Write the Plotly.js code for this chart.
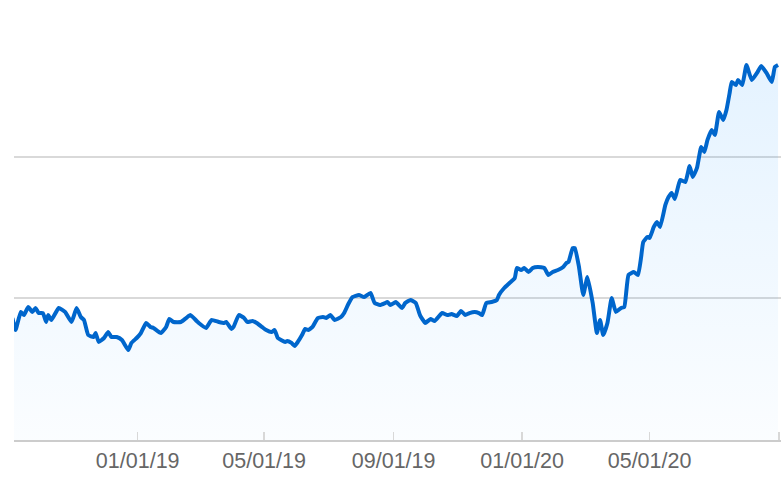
<!DOCTYPE html>
<html>
<head>
<meta charset="utf-8">
<script src="https://cdn.plot.ly/plotly-3.0.1.min.js"></script>
<style>html,body{margin:0;padding:0;background:#fff;}#chart{width:782px;height:488px;}</style>
</head>
<body>
<div id="chart"></div>
<script>
const dates = [
"2018-09-04","2018-09-07","2018-09-12","2018-09-15","2018-09-19","2018-09-23","2018-09-26","2018-09-29",
"2018-10-03","2018-10-06","2018-10-08","2018-10-11","2018-10-18","2018-10-24","2018-10-30",
"2018-11-01","2018-11-04","2018-11-08","2018-11-11","2018-11-15","2018-11-20","2018-11-22","2018-11-25","2018-11-30",
"2018-12-04","2018-12-07","2018-12-12","2018-12-17","2018-12-23","2018-12-26","2018-12-31",
"2019-01-04","2019-01-09","2019-01-13","2019-01-16","2019-01-23","2019-01-28",
"2019-01-31","2019-02-04","2019-02-11","2019-02-16","2019-02-20","2019-02-26","2019-02-28",
"2019-03-07","2019-03-12","2019-03-19","2019-03-24","2019-03-26","2019-03-31",
"2019-04-02","2019-04-07","2019-04-12","2019-04-15","2019-04-20","2019-04-24","2019-04-29",
"2019-05-03","2019-05-08","2019-05-11","2019-05-14","2019-05-21","2019-05-23","2019-05-27","2019-05-30",
"2019-06-02","2019-06-06","2019-06-09","2019-06-12","2019-06-16","2019-06-21","2019-06-26","2019-06-29",
"2019-07-03","2019-07-07","2019-07-13","2019-07-16","2019-07-20","2019-07-24","2019-07-30",
"2019-08-04","2019-08-10","2019-08-14","2019-08-19","2019-08-24","2019-08-26","2019-08-29","2019-09-03",
"2019-09-09","2019-09-12","2019-09-17","2019-09-22","2019-09-26","2019-10-01",
"2019-10-06","2019-10-10","2019-10-17","2019-10-22","2019-10-26","2019-10-31",
"2019-11-04","2019-11-08","2019-11-12","2019-11-17","2019-11-21","2019-11-24","2019-11-28","2019-12-03",
"2019-12-08","2019-12-10","2019-12-15","2019-12-20","2019-12-25","2019-12-27","2019-12-31",
"2020-01-03","2020-01-07","2020-01-11","2020-01-16","2020-01-22","2020-01-26","2020-01-30",
"2020-02-04","2020-02-09","2020-02-12","2020-02-14","2020-02-18","2020-02-20","2020-02-24","2020-02-28",
"2020-03-03","2020-03-08","2020-03-12","2020-03-15","2020-03-18","2020-03-22","2020-03-26","2020-03-30",
"2020-04-04","2020-04-07","2020-04-11","2020-04-16","2020-04-20","2020-04-23","2020-04-25","2020-04-29","2020-05-01",
"2020-05-05","2020-05-08","2020-05-11","2020-05-16","2020-05-19","2020-05-22","2020-05-25","2020-05-30",
"2020-06-04","2020-06-08","2020-06-11","2020-06-15","2020-06-19","2020-06-22","2020-06-25","2020-06-29",
"2020-07-02","2020-07-06","2020-07-10","2020-07-13","2020-07-16","2020-07-18","2020-07-22","2020-07-24","2020-07-28",
"2020-08-01","2020-08-06","2020-08-11","2020-08-15","2020-08-20","2020-08-25","2020-08-28","2020-08-31"
];
const values = [
86.1,77.6,90.4,88.2,93.9,90.4,93.2,89.6,
89.6,83.3,88.2,84.7,93.2,90.4,83.3,
86.8,93.2,86.8,84.7,74.1,72.7,75.5,69.2,72.0,
76.2,72.7,72.7,70.6,63.5,68.5,72.0,
75.5,82.6,79.8,79.1,75.5,79.8,
85.4,83.3,83.3,86.1,88.2,84.0,82.6,
79.1,84.7,83.3,82.6,83.3,78.4,
79.8,88.2,86.1,83.3,84.0,82.6,79.8,
77.6,76.2,77.6,72.0,69.2,69.9,68.5,66.4,
69.2,74.1,78.4,77.6,79.8,86.1,86.8,86.1,
88.2,84.7,86.8,89.6,96.0,100.9,102.4,
100.9,103.8,96.7,95.3,96.7,97.4,95.3,97.4,
93.2,96.7,98.8,96.7,88.2,82.6,
85.4,84.0,89.6,88.2,88.9,87.5,
91.1,88.2,89.6,90.4,89.6,88.2,96.7,97.4,
98.8,102.4,107.3,110.8,114.4,121.4,120.0,
121.4,118.6,121.4,122.1,121.4,116.5,118.6,
120.0,122.1,124.9,125.6,135.5,135.5,122.1,102.4,
115.1,96.7,75.5,84.7,74.1,82.6,100.2,90.4,
93.2,93.9,116.5,118.6,116.5,129.2,139.8,143.3,142.6,
150.4,153.9,150.4,165.9,171.5,174.4,170.1,183.5,
182.1,193.4,185.7,192.0,206.8,203.3,211.8,218.8,
215.3,231.5,225.9,232.9,244.9,252.7,250.6,254.1,250.6,
264.7,254.1,259.1,264.0,259.1,252.7,263.3,264.7
];
const tickDates = ["2019-01-01","2019-05-01","2019-09-01","2020-01-01","2020-05-01","2020-09-01"];
const tickLabels = ["01/01/19","05/01/19","09/01/19","01/01/20","05/01/20",""];

const trace = {
  x: dates, y: values, type: 'scatter', mode: 'lines',
  line: {color: '#0066cc', width: 4, shape: 'spline', smoothing: 0.4},
  fill: 'tozeroy',
  fillgradient: {type: 'vertical', start: 0, stop: 300,
    colorscale: [[0, 'rgba(30,150,255,0.02)'], [1, 'rgba(30,150,255,0.13)']]},
  hoverinfo: 'skip'
};
const layout = {
  width: 782, height: 488,
  margin: {l: 14, r: 1, t: 14, b: 48, pad: 0},
  paper_bgcolor: '#fff', plot_bgcolor: '#fff',
  showlegend: false,
  font: {family: '"Liberation Sans", Arial, sans-serif', color: '#666', size: 21.5},
  xaxis: {
    type: 'date', range: ['2018-09-05 13:00', '2020-09-02 19:00'],
    tickvals: tickDates, ticktext: tickLabels,
    ticks: 'inside', ticklen: 8, tickwidth: 1.5, tickcolor: '#d8d8d8',
    showline: true, linecolor: '#cccccc', linewidth: 2,
    showgrid: false, zeroline: false,
    tickfont: {size: 21.5, color: '#666'}
  },
  yaxis: {
    range: [0, 300.7], tickvals: [100, 200, 300],
    showticklabels: false, ticks: '',
    showgrid: true, gridcolor: '#d9d9d9', gridwidth: 1.7,
    zeroline: false, showline: false
  }
};
Plotly.newPlot('chart', [trace], layout, {staticPlot: true, displayModeBar: false});
</script>
</body>
</html>
